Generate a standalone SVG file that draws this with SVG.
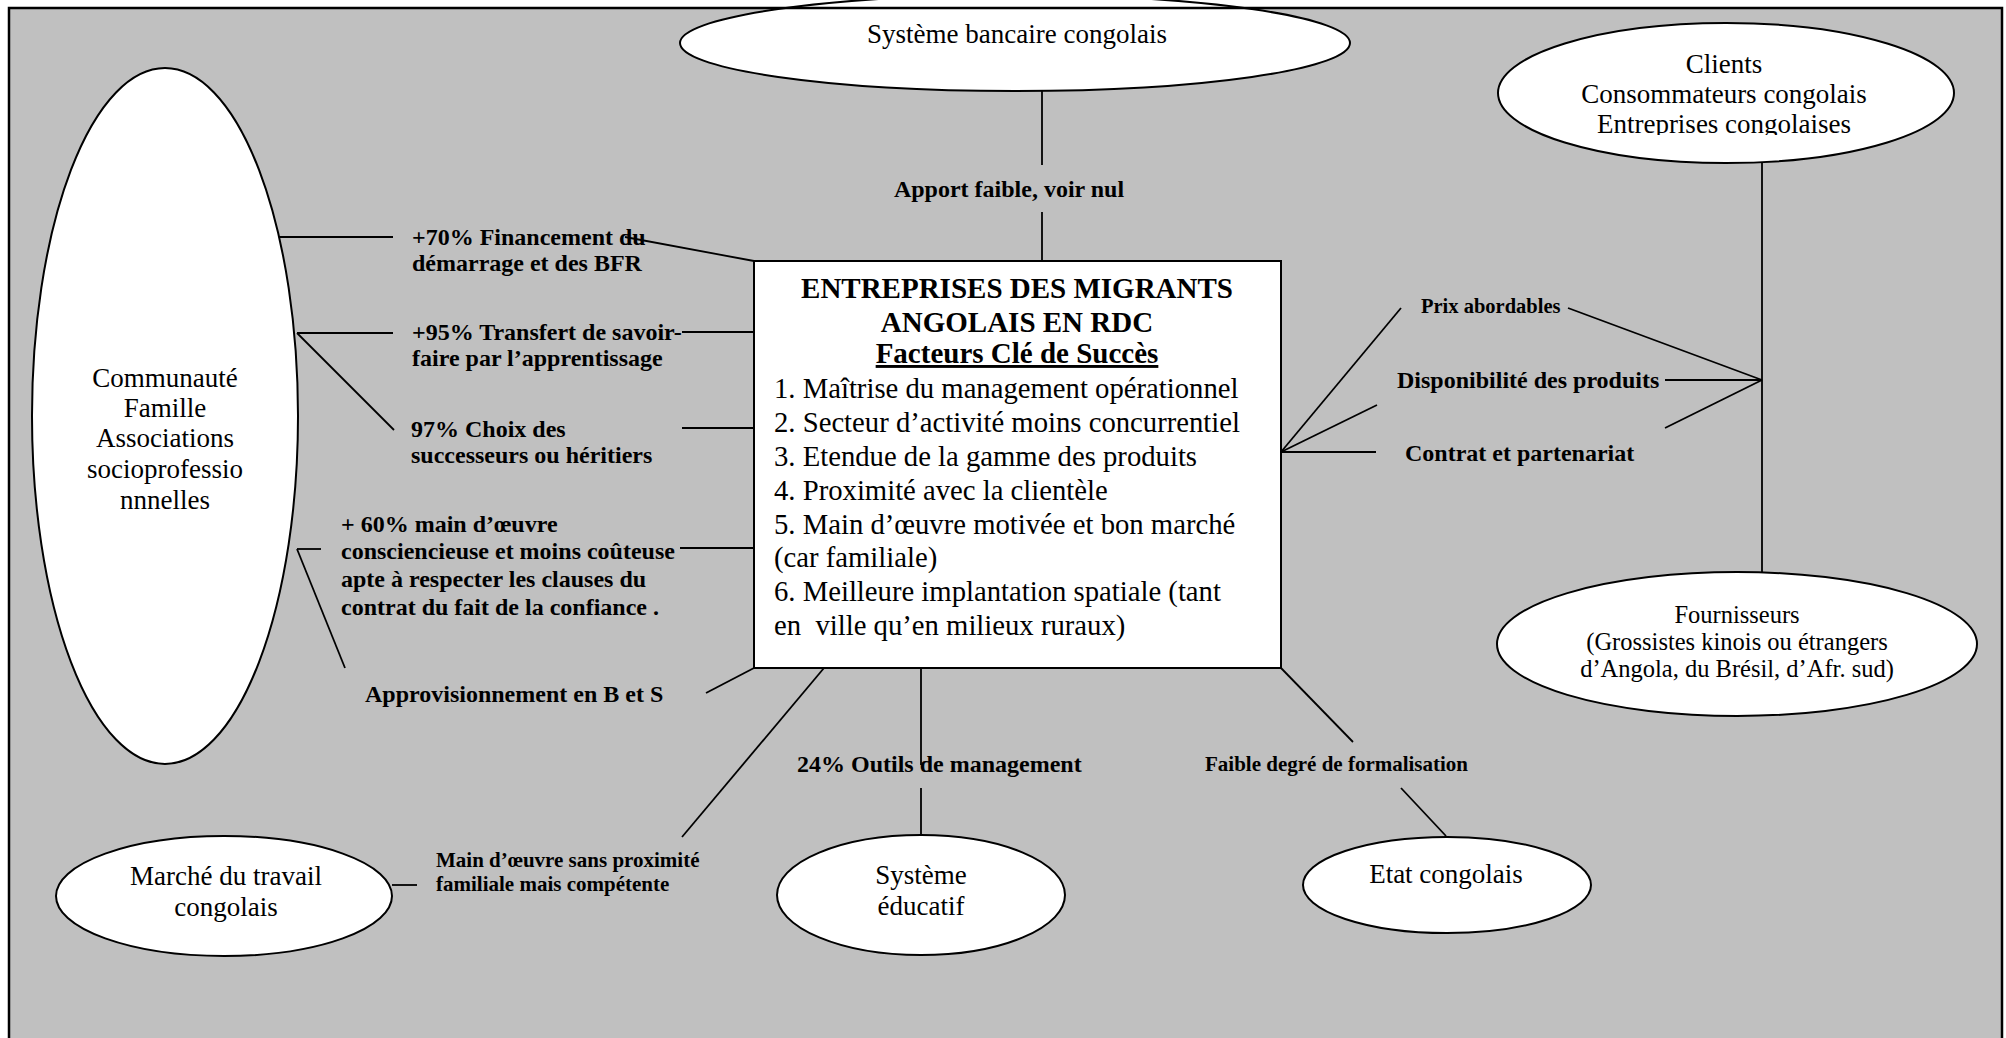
<svg xmlns="http://www.w3.org/2000/svg" width="2006" height="1038" viewBox="0 0 2006 1038">
<defs>
<style>
.bg{fill:#c0c0c0;stroke:none}
.frame{fill:none;stroke:#000;stroke-width:2.5}
.node{fill:#fff;stroke:#000;stroke-width:2}
.ln{stroke:#000;stroke-width:1.8;fill:none}
text{font-family:"Liberation Serif","Times New Roman",serif;fill:#000}
.n27{font-size:27px}
.n245{font-size:24.5px}
.lb{font-size:24px;font-weight:bold}
.ls{font-size:21px;font-weight:bold}
.tt{font-size:29px;font-weight:bold}
.li{font-size:28.7px}
.c{text-anchor:middle}
</style>
<clipPath id="clipClients"><rect x="1490" y="20" width="480" height="115"/></clipPath>
</defs>
<rect class="bg" x="9" y="8" width="1993" height="1040"/>

<g id="connectors">
<line class="ln" x1="273" y1="237" x2="393" y2="237"/>
<line class="ln" x1="625" y1="237" x2="754" y2="261"/>
<line class="ln" x1="297" y1="333" x2="393" y2="333"/>
<line class="ln" x1="297" y1="333" x2="394" y2="430"/>
<line class="ln" x1="682" y1="332" x2="754" y2="332"/>
<line class="ln" x1="682" y1="428" x2="754" y2="428"/>
<line class="ln" x1="297" y1="549" x2="321" y2="549"/>
<line class="ln" x1="297" y1="549" x2="345" y2="668"/>
<line class="ln" x1="680" y1="548" x2="754" y2="548"/>
<line class="ln" x1="706" y1="693" x2="754" y2="668"/>
<line class="ln" x1="824" y1="668" x2="682" y2="837"/>
<line class="ln" x1="392" y1="885" x2="417" y2="885"/>
<line class="ln" x1="921" y1="668" x2="921" y2="765"/>
<line class="ln" x1="921" y1="788" x2="921" y2="836"/>
<line class="ln" x1="1281" y1="668" x2="1353" y2="742"/>
<line class="ln" x1="1401" y1="788" x2="1446" y2="836"/>
<line class="ln" x1="1281" y1="452" x2="1401" y2="308"/>
<line class="ln" x1="1281" y1="452" x2="1377" y2="405"/>
<line class="ln" x1="1281" y1="452" x2="1376" y2="452"/>
<line class="ln" x1="1568" y1="308" x2="1762" y2="380"/>
<line class="ln" x1="1665" y1="380" x2="1762" y2="380"/>
<line class="ln" x1="1665" y1="428" x2="1762" y2="380"/>
<line class="ln" x1="1762" y1="163" x2="1762" y2="572"/>
<line class="ln" x1="1042" y1="91" x2="1042" y2="165"/>
<line class="ln" x1="1042" y1="212" x2="1042" y2="261"/>
</g>

<g id="labels">
<text class="lb" x="1009" y="197" text-anchor="middle">Apport faible, voir nul</text>
<text class="lb" x="412" y="245">+70% Financement du</text>
<text class="lb" x="412" y="271">démarrage et des BFR</text>
<text class="lb" x="412" y="340">+95% Transfert de savoir-</text>
<text class="lb" x="412" y="366">faire par l’apprentissage</text>
<text class="lb" x="411" y="437">97% Choix des</text>
<text class="lb" x="411" y="463">successeurs ou héritiers</text>
<text class="lb" x="341" y="532">+ 60% main d’œuvre</text>
<text class="lb" x="341" y="559">consciencieuse et moins coûteuse</text>
<text class="lb" x="341" y="587">apte à respecter les clauses du</text>
<text class="lb" x="341" y="615">contrat du fait de la confiance .</text>
<text class="lb" x="365" y="702">Approvisionnement en B et S</text>
<text class="ls" x="436" y="867">Main d’œuvre sans proximité</text>
<text class="ls" x="436" y="891">familiale mais compétente</text>
<text class="lb" x="797" y="772">24% Outils de management</text>
<text class="ls" x="1205" y="771">Faible degré de formalisation</text>
<text class="ls" x="1421" y="313" style="font-size:20.5px">Prix abordables</text>
<text class="lb" x="1397" y="388">Disponibilité des produits</text>
<text class="lb" x="1405" y="461">Contrat et partenariat</text>
</g>

<g id="node-banque">
<ellipse class="node" cx="1015" cy="43" rx="335" ry="48"/>
<text class="n27 c" x="1017" y="43">Système bancaire congolais</text>
</g>

<g id="node-entreprises">
<rect class="node" x="754" y="261" width="527" height="407"/>
<text class="tt c" x="1017" y="298">ENTREPRISES DES MIGRANTS</text>
<text class="tt c" x="1017" y="332">ANGOLAIS EN RDC</text>
<text class="tt c" x="1017" y="363" text-decoration="underline">Facteurs Clé de Succès</text>
<text class="li" x="774" y="398">1. Maîtrise du management opérationnel</text>
<text class="li" x="774" y="432">2. Secteur d’activité moins concurrentiel</text>
<text class="li" x="774" y="466">3. Etendue de la gamme des produits</text>
<text class="li" x="774" y="500">4. Proximité avec la clientèle</text>
<text class="li" x="774" y="534">5. Main d’œuvre motivée et bon marché</text>
<text class="li" x="774" y="567">(car familiale)</text>
<text class="li" x="774" y="601">6. Meilleure implantation spatiale (tant</text>
<text class="li" x="774" y="635" xml:space="preserve">en  ville qu’en milieux ruraux)</text>
</g>

<g id="node-communaute">
<ellipse class="node" cx="165" cy="416" rx="133" ry="348"/>
<text class="n27 c" x="165" y="387">Communauté</text>
<text class="n27 c" x="165" y="417">Famille</text>
<text class="n27 c" x="165" y="447">Associations</text>
<text class="n27 c" x="165" y="478">socioprofessio</text>
<text class="n27 c" x="165" y="509">nnnelles</text>
</g>

<g id="node-clients">
<ellipse class="node" cx="1726" cy="93" rx="228" ry="70"/>
<g clip-path="url(#clipClients)">
<text class="n27 c" x="1724" y="73">Clients</text>
<text class="n27 c" x="1724" y="103">Consommateurs congolais</text>
<text class="n27 c" x="1724" y="133">Entreprises congolaises</text>
</g>
</g>

<g id="node-fournisseurs">
<ellipse class="node" cx="1737" cy="644" rx="240" ry="72"/>
<text class="n245 c" x="1737" y="623">Fournisseurs</text>
<text class="n245 c" x="1737" y="650">(Grossistes kinois ou étrangers</text>
<text class="n245 c" x="1737" y="677">d’Angola, du Brésil, d’Afr. sud)</text>
</g>

<g id="node-marche">
<ellipse class="node" cx="224" cy="896" rx="168" ry="60"/>
<text class="n27 c" x="226" y="885">Marché du travail</text>
<text class="n27 c" x="226" y="916">congolais</text>
</g>

<g id="node-educatif">
<ellipse class="node" cx="921" cy="895" rx="144" ry="60"/>
<text class="n27 c" x="921" y="884">Système</text>
<text class="n27 c" x="921" y="915">éducatif</text>
</g>

<g id="node-etat">
<ellipse class="node" cx="1447" cy="885" rx="144" ry="48"/>
<text class="n27 c" x="1446" y="883">Etat congolais</text>
</g>

<rect class="frame" x="9" y="8" width="1993" height="1040"/>
</svg>
